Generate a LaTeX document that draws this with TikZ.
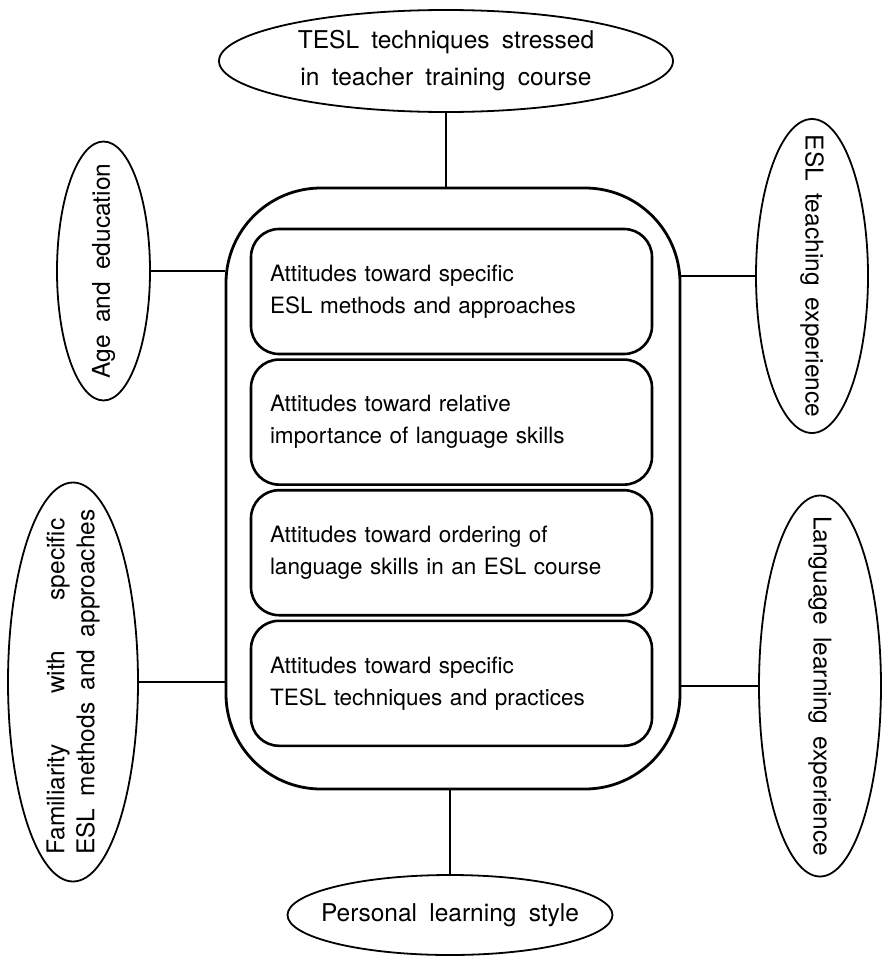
\documentclass[tikz,border=0pt]{standalone}
\usepackage{fontspec}
\setmainfont[WordSpace=1.8]{TeX Gyre Heros}
\usetikzlibrary{positioning,shapes.geometric}

\begin{document}
\begin{tikzpicture}[x=1pt, y=-1pt,
    factor/.style={ellipse, draw, line width=1.8pt, inner sep=0pt},
    factor text/.style={align=left, font=\fontsize{24.5}{30}\selectfont},
    attitude/.style={rectangle, draw, line width=2.6pt, rounded corners=28pt, minimum width=401pt, minimum height=125pt, text width=363pt, inner xsep=19pt, align=left, font=\fontsize{22.5}{32}\selectfont},
    link/.style={line width=2.4pt}]
    \useasboundingbox (0,0) rectangle (883,956);

    % frame with the four attitude boxes
    \node[rectangle, draw, line width=2.8pt, rounded corners=95pt, minimum width=454pt, minimum height=601pt] (frame) at (453,488.5) {};
    \node[attitude] (methods) at (451.5,291.5) {Attitudes toward specific\\ESL methods and approaches};
    \node[attitude, below=3pt of methods] (skills) {Attitudes toward relative\\importance of language skills};
    \node[attitude, below=3pt of skills] (ordering) {Attitudes toward ordering of\\language skills in an ESL course};
    \node[attitude, below=3pt of ordering] (techniques) {Attitudes toward specific\\TESL techniques and practices};

    % factors round the frame
    \node[factor, minimum width=454pt, minimum height=102pt] (training) at (446,61) {};
    \node[factor text, align=center, font=\fontsize{24.5}{37}\selectfont] (training text) at (training) {TESL techniques stressed\\in teacher training course};
    \node[factor, minimum width=93pt, minimum height=259pt] (age) at (103.5,271) {};
    \node[factor text, rotate=90] (age text) at (age) {Age and education};
    \node[factor, minimum width=112pt, minimum height=314pt] (teaching) at (812,276) {};
    \node[factor text, rotate=-90] (teaching text) at (teaching) {ESL teaching experience};
    \node[factor, minimum width=130pt, minimum height=399pt] (familiarity) at (73,682) {};
    \node[factor text, rotate=90] (familiarity text) at (familiarity) {\makebox[336pt][s]{Familiarity with specific}\\ESL methods and approaches};
    \node[factor, minimum width=122pt, minimum height=381pt] (language) at (820,686) {};
    \node[factor text, rotate=-90] (language text) at (language) {Language learning experience};
    \node[factor, minimum width=325pt, minimum height=80pt] (style) at (450,915) {};
    \node[factor text] (style text) at (style) {Personal learning style};

    \draw[link] (training.south) -- (training.south |- frame.north);
    \draw[link] (age.east) -- (age.east -| frame.west);
    \draw[link] (teaching.west) -- (teaching.west -| frame.east);
    \draw[link] (familiarity.east) -- (familiarity.east -| frame.west);
    \draw[link] (language.west) -- (language.west -| frame.east);
    \draw[link] (style.north) -- (style.north |- frame.south);
\end{tikzpicture}
\end{document}
